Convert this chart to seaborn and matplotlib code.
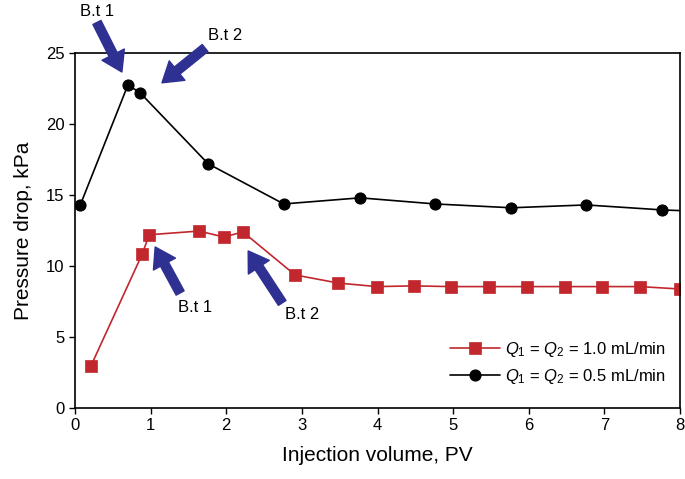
import matplotlib
matplotlib.use("Agg")
import matplotlib.pyplot as plt
import seaborn as sns
import pandas as pd

# Data
pv_05 = [0.07, 0.70, 0.86, 1.76, 2.76, 3.77, 4.76, 5.77, 6.76, 7.76, 8.25]
dp_05 = [14.3, 22.75, 22.2, 17.2, 14.37, 14.8, 14.37, 14.1, 14.3, 13.95, 13.85]
pv_10 = [0.21, 0.89, 0.98, 1.64, 1.97, 2.22, 2.91, 3.48, 3.99, 4.48, 4.97, 5.48, 5.98, 6.48, 6.97, 7.47, 8.0]
dp_10 = [2.96, 10.85, 12.2, 12.46, 12.04, 12.4, 9.37, 8.8, 8.55, 8.6, 8.55, 8.55, 8.55, 8.55, 8.55, 8.55, 8.38]
label_10 = r"$Q_1$ = $Q_2$ = 1.0 mL/min"
label_05 = r"$Q_1$ = $Q_2$ = 0.5 mL/min"
x_ticks = [0, 1, 2, 3, 4, 5, 6, 7, 8]
y_ticks = [0, 5, 10, 15, 20, 25]

sns.set_style("ticks")
plt.rcParams["font.family"] = ["Liberation Sans", "DejaVu Sans"]
plt.rcParams["mathtext.fontset"] = "custom"
plt.rcParams["mathtext.it"] = "Liberation Sans:italic"
plt.rcParams["mathtext.rm"] = "Liberation Sans"
plt.rcParams["text.color"] = "black"
plt.rcParams["axes.labelcolor"] = "black"
plt.rcParams["xtick.color"] = "black"
plt.rcParams["ytick.color"] = "black"

fig = plt.figure(figsize=(6.85, 4.79), dpi=100)
ax = fig.add_axes([0.1095, 0.1482, 0.8832, 0.7412])

red = "#c1272d"
df10 = pd.DataFrame({"pv": pv_10, "dp": dp_10})
df05 = pd.DataFrame({"pv": pv_05, "dp": dp_05})
sns.lineplot(data=df10, x="pv", y="dp", ax=ax, color=red, marker="s", markersize=8,
             markeredgecolor=red, markeredgewidth=0.5, linewidth=1.2, sort=False, label=label_10)
sns.lineplot(data=df05, x="pv", y="dp", ax=ax, color="black", marker="o", markersize=8,
             markeredgecolor="black", linewidth=1.2, sort=False, label=label_05)

ax.set_xlim(0, 8)
ax.set_ylim(0, 25)
ax.set_xticks(x_ticks)
ax.set_yticks(y_ticks)
ax.tick_params(axis="both", labelsize=12, direction="out", length=4, width=1, color="black",
               labelcolor="black")
for s in ax.spines.values():
    s.set_color("black")
    s.set_linewidth(1.2)
ax.set_xlabel("Injection volume, PV", fontsize=15, labelpad=9, color="black")
ax.set_ylabel("Pressure drop, kPa", fontsize=15, labelpad=9, color="black")

blue = "#2e3192"
arrowprops = dict(width=6.5, headwidth=18, headlength=14, color=blue, shrink=0.0)
arrows = [
    ((0.62, 23.66), (0.29, 27.15), "B.t 1", (0.29, 27.9)),
    ((1.15, 22.9), (1.72, 25.35), "B.t 2", (1.99, 26.2)),
    ((1.06, 11.34), (1.39, 8.1), "B.t 1", (1.59, 7.1)),
    ((2.29, 11.06), (2.74, 7.4), "B.t 2", (3.0, 6.55)),
]
for tip, tail, txt, tpos in arrows:
    ax.annotate("", xy=tip, xytext=tail, arrowprops=arrowprops, annotation_clip=False)
    ax.text(tpos[0], tpos[1], txt, fontsize=12, ha="center", va="center", clip_on=False,
            color="black")

leg = ax.legend(loc="lower right", frameon=False, fontsize=12, handlelength=3,
                bbox_to_anchor=(0.995, 0.03), borderaxespad=0.3, handletextpad=0.3,
                labelspacing=0.45)
for t in leg.get_texts():
    t.set_color("black")

fig.savefig("out.png", dpi=100)
